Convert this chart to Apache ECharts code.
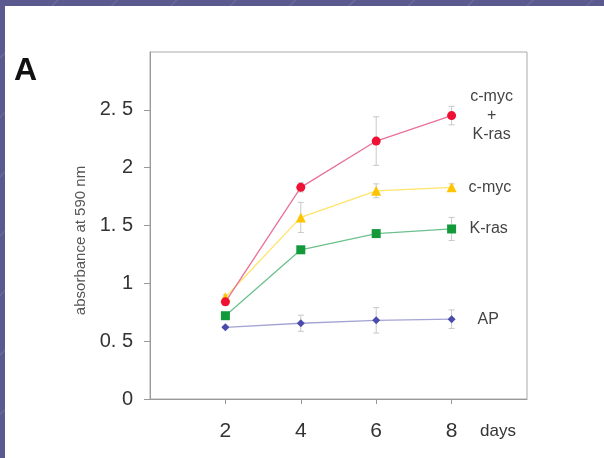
<!DOCTYPE html>
<html>
<head>
<meta charset="utf-8">
<script src="https://cdn.jsdelivr.net/npm/echarts@6/dist/echarts.min.js"></script>
<style>
  html, body { margin: 0; padding: 0; }
  body {
    width: 604px; height: 458px; overflow: hidden; position: relative;
    background: #5b5a8e;
    background-image: repeating-linear-gradient(135deg, rgba(255,255,255,0) 0px, rgba(255,255,255,0) 40px, rgba(255,255,255,0.12) 41px, rgba(255,255,255,0) 42px);
  }
  #panel { position: absolute; left: 5px; top: 6px; right: 0; bottom: 0; background: #fff; }
  #chart { position: absolute; left: 0; top: 0; width: 604px; height: 458px; }
</style>
</head>
<body>
<div id="panel"></div>
<div id="chart"></div>
<script>
// days of culture
const days = [2, 4, 6, 8];

// absorbance at 590 nm
const bothVals = [0.84, 1.83, 2.23, 2.45];
const bothErr = [0.03, 0.04, 0.21, 0.08];
const mycVals = [0.88, 1.57, 1.80, 1.83];
const mycErr = [0.02, 0.13, 0.06, 0.03];
const rasVals = [0.72, 1.29, 1.43, 1.47];
const rasErr = [0.02, 0.03, 0.03, 0.10];
const apVals = [0.62, 0.655, 0.68, 0.69];
const apErr = [0.01, 0.07, 0.11, 0.08];

const yTicks = [0, 0.5, 1, 1.5, 2, 2.5];

const font = 'Liberation Sans, Arial, sans-serif';
const chart = echarts.init(document.getElementById('chart'), null, { renderer: 'canvas' });

function pairs(vals) {
  return days.map((d, i) => [d, vals[i]]);
}

// 误差线
function errSeries(vals, errs) {
  return {
    type: 'custom',
    z: 1,
    silent: true,
    data: days.map((d, i) => [d, vals[i] - errs[i], vals[i] + errs[i]]),
    renderItem: (params, api) => {
      const lo = api.coord([api.value(0), api.value(1)]);
      const hi = api.coord([api.value(0), api.value(2)]);
      const w = 3;
      const style = { stroke: '#c8c8c8', lineWidth: 1 };
      return {
        type: 'group',
        children: [
          { type: 'line', shape: { x1: lo[0], y1: lo[1], x2: hi[0], y2: hi[1] }, style },
          { type: 'line', shape: { x1: lo[0] - w, y1: lo[1], x2: lo[0] + w, y2: lo[1] }, style },
          { type: 'line', shape: { x1: hi[0] - w, y1: hi[1], x2: hi[0] + w, y2: hi[1] }, style },
        ],
      };
    },
  };
}

function lineSeries(name, vals, symbol, size, markColor, lineColor, endLabel) {
  return {
    name,
    type: 'line',
    z: 3,
    data: pairs(vals),
    symbol,
    symbolSize: size,
    itemStyle: { color: markColor },
    lineStyle: { color: lineColor, width: 1.3 },
    endLabel: Object.assign({
      show: true,
      fontFamily: font,
      fontSize: 16,
      color: '#444',
      formatter: () => name,
    }, endLabel),
  };
}

const option = {
  animation: false,
  grid: {
    left: 150, right: 77, top: 52, bottom: 59,
    show: true, borderColor: '#aaa', borderWidth: 1,
  },
  xAxis: {
    type: 'value',
    min: 0, max: 10, interval: 2,
    splitLine: { show: false },
    axisLine: { lineStyle: { color: '#999' } },
    axisTick: { show: true, length: 5, lineStyle: { color: '#999' }, customValues: days },
    axisLabel: {
      customValues: days,
      fontFamily: font, fontSize: 21, color: '#333', margin: 22,
    },
    name: 'days',
    nameLocation: 'end',
    nameGap: -47,
    nameTextStyle: {
      fontFamily: font, fontSize: 17, color: '#333',
      verticalAlign: 'top', align: 'left', padding: [24, 0, 0, 0],
    },
  },
  yAxis: {
    type: 'value',
    min: 0, max: 3, interval: 0.5,
    splitLine: { show: false },
    axisLine: { show: true, lineStyle: { color: '#999' } },
    axisTick: { show: true, length: 6, lineStyle: { color: '#999' }, customValues: yTicks },
    axisLabel: {
      customValues: yTicks,
      fontFamily: font, fontSize: 20, color: '#333', margin: 17,
      formatter: (v) => (v === 2.5 ? '2. 5' : v === 1.5 ? '1. 5' : v === 0.5 ? '0. 5' : String(v)),
    },
    name: 'absorbance at 590 nm',
    nameLocation: 'middle',
    nameGap: 59,
    nameTextStyle: { fontFamily: font, fontSize: 15, color: '#555', padding: [0, 30, 0, 0] },
  },
  graphic: [
    {
      type: 'text', left: 14, top: 55,
      style: { text: 'A', font: 'bold 32px ' + font, fill: '#111' },
    },
  ],
  series: [
    errSeries(apVals, apErr),
    errSeries(rasVals, rasErr),
    errSeries(mycVals, mycErr),
    errSeries(bothVals, bothErr),
    lineSeries('AP', apVals, 'diamond', 8, '#4b4bab', '#a4a4d4', { distance: 26 }),
    lineSeries('K-ras', rasVals, 'rect', 9, '#129a3a', '#6cc08e', { distance: 18 }),
    lineSeries('c-myc', mycVals, 'triangle', 10, '#ffc400', '#ffe46a', { distance: 17 }),
    lineSeries('c-myc\n+\nK-ras', bothVals, 'circle', 9, '#ee1133', '#e8709a',
      { distance: 40, align: 'center', lineHeight: 19 }),
  ],
};

chart.setOption(option);
</script>
</body>
</html>
